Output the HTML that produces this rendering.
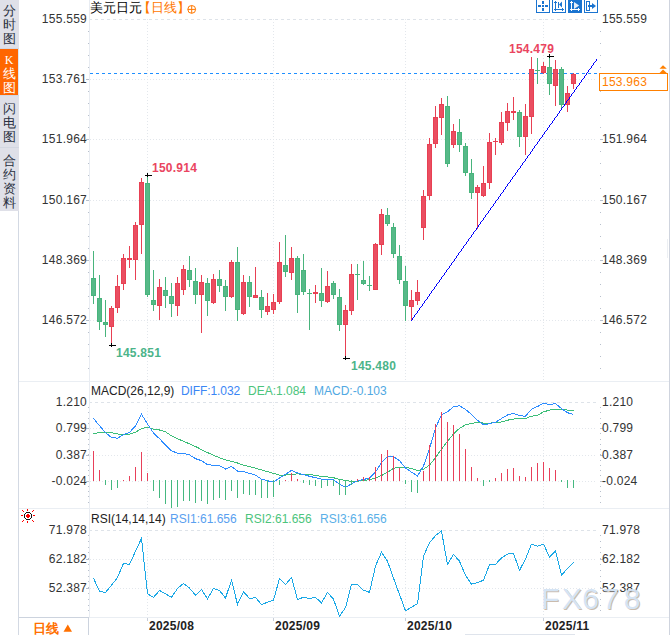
<!DOCTYPE html>
<html><head><meta charset="utf-8">
<style>
html,body{margin:0;padding:0;}
body{width:670px;height:635px;position:relative;overflow:hidden;background:#fff;font-family:"Liberation Sans",sans-serif;}
.t{position:absolute;white-space:nowrap;line-height:1;}
#side{position:absolute;left:0;top:0;width:19px;height:211px;background:#dfe0e8;}
.tab{position:absolute;left:0;width:18px;font-size:13px;line-height:14px;text-align:center;color:#2a3040;}
#ktab{position:absolute;left:0;top:49px;width:18px;height:46px;background:#ff6600;}
#pbox{position:absolute;left:599px;top:73px;width:67px;height:16px;border:1px solid #ff8000;background:#fff;}
#wm{position:absolute;left:541px;top:584px;font-size:30px;line-height:30px;color:#d2e2f4;text-shadow:1px 1px 0 rgba(150,120,90,0.55);letter-spacing:2.6px;opacity:0.92;}
svg{position:absolute;left:0;top:0;}
</style></head>
<body>
<div id="side"></div>
<div id="ktab"></div>
<div style="position:absolute;left:18px;top:49px;width:1px;height:46px;background:#dce8f4"></div>
<div style="position:absolute;left:0;top:95px;width:19px;height:1px;background:#d2dbe6"></div>
<div style="position:absolute;left:0;top:147px;width:19px;height:1px;background:#d3d7e1"></div>
<div style="position:absolute;left:0;top:48px;width:19px;height:1px;background:#d3d7e1"></div>
<div class="tab" style="top:4px">分<br>时<br>图</div>
<div class="tab" style="top:53px;color:#fff"><span style="font-family:'Liberation Serif',serif;font-size:12px">K</span><br>线<br>图</div>
<div class="tab" style="top:102px">闪<br>电<br>图</div>
<div class="tab" style="top:154px">合<br>约<br>资<br>料</div>
<svg width="670" height="635" viewBox="0 0 670 635">
<line x1="89" y1="19.5" x2="597" y2="19.5" stroke="#dee3e9" stroke-dasharray="3 3"/>
<line x1="90" y1="79.5" x2="597" y2="79.5" stroke="#e3e7ec" stroke-dasharray="1 2"/>
<line x1="90" y1="139.5" x2="597" y2="139.5" stroke="#e3e7ec" stroke-dasharray="1 2"/>
<line x1="90" y1="200.5" x2="597" y2="200.5" stroke="#e3e7ec" stroke-dasharray="1 2"/>
<line x1="90" y1="260.5" x2="597" y2="260.5" stroke="#e3e7ec" stroke-dasharray="1 2"/>
<line x1="90" y1="320.5" x2="597" y2="320.5" stroke="#e3e7ec" stroke-dasharray="1 2"/>
<line x1="147.5" y1="19" x2="147.5" y2="380" stroke="#e3e7ec" stroke-dasharray="1 2"/>
<line x1="273.5" y1="19" x2="273.5" y2="380" stroke="#e3e7ec" stroke-dasharray="1 2"/>
<line x1="405.5" y1="19" x2="405.5" y2="380" stroke="#e3e7ec" stroke-dasharray="1 2"/>
<line x1="543.5" y1="19" x2="543.5" y2="380" stroke="#e3e7ec" stroke-dasharray="1 2"/>
<line x1="89" y1="402.5" x2="597" y2="402.5" stroke="#dee3e9" stroke-dasharray="3 3"/>
<line x1="90" y1="428.5" x2="597" y2="428.5" stroke="#e3e7ec" stroke-dasharray="1 2"/>
<line x1="90" y1="455.5" x2="597" y2="455.5" stroke="#e3e7ec" stroke-dasharray="1 2"/>
<line x1="90" y1="481.5" x2="597" y2="481.5" stroke="#e3e7ec" stroke-dasharray="1 2"/>
<line x1="147.5" y1="402" x2="147.5" y2="508" stroke="#e3e7ec" stroke-dasharray="1 2"/>
<line x1="273.5" y1="402" x2="273.5" y2="508" stroke="#e3e7ec" stroke-dasharray="1 2"/>
<line x1="405.5" y1="402" x2="405.5" y2="508" stroke="#e3e7ec" stroke-dasharray="1 2"/>
<line x1="543.5" y1="402" x2="543.5" y2="508" stroke="#e3e7ec" stroke-dasharray="1 2"/>
<line x1="89" y1="530.5" x2="597" y2="530.5" stroke="#dee3e9" stroke-dasharray="3 3"/>
<line x1="90" y1="559.5" x2="597" y2="559.5" stroke="#e3e7ec" stroke-dasharray="1 2"/>
<line x1="90" y1="588.5" x2="597" y2="588.5" stroke="#e3e7ec" stroke-dasharray="1 2"/>
<line x1="147.5" y1="530" x2="147.5" y2="617" stroke="#e3e7ec" stroke-dasharray="1 2"/>
<line x1="273.5" y1="530" x2="273.5" y2="617" stroke="#e3e7ec" stroke-dasharray="1 2"/>
<line x1="405.5" y1="530" x2="405.5" y2="617" stroke="#e3e7ec" stroke-dasharray="1 2"/>
<line x1="543.5" y1="530" x2="543.5" y2="617" stroke="#e3e7ec" stroke-dasharray="1 2"/>
<rect x="89" y="0" width="1" height="617" fill="#e8ecf2"/>
<rect x="88" y="31" width="1" height="1" fill="#b8c0cc"/>
<rect x="600" y="31" width="1" height="1" fill="#b8c0cc"/>
<rect x="88" y="43" width="1" height="1" fill="#b8c0cc"/>
<rect x="600" y="43" width="1" height="1" fill="#b8c0cc"/>
<rect x="88" y="55" width="1" height="1" fill="#b8c0cc"/>
<rect x="600" y="55" width="1" height="1" fill="#b8c0cc"/>
<rect x="88" y="67" width="1" height="1" fill="#b8c0cc"/>
<rect x="600" y="67" width="1" height="1" fill="#b8c0cc"/>
<rect x="88" y="79" width="1" height="1" fill="#b8c0cc"/>
<rect x="600" y="79" width="1" height="1" fill="#b8c0cc"/>
<rect x="88" y="91" width="1" height="1" fill="#b8c0cc"/>
<rect x="600" y="91" width="1" height="1" fill="#b8c0cc"/>
<rect x="88" y="103" width="1" height="1" fill="#b8c0cc"/>
<rect x="600" y="103" width="1" height="1" fill="#b8c0cc"/>
<rect x="88" y="115" width="1" height="1" fill="#b8c0cc"/>
<rect x="600" y="115" width="1" height="1" fill="#b8c0cc"/>
<rect x="88" y="127" width="1" height="1" fill="#b8c0cc"/>
<rect x="600" y="127" width="1" height="1" fill="#b8c0cc"/>
<rect x="88" y="139" width="1" height="1" fill="#b8c0cc"/>
<rect x="600" y="139" width="1" height="1" fill="#b8c0cc"/>
<rect x="88" y="151" width="1" height="1" fill="#b8c0cc"/>
<rect x="600" y="151" width="1" height="1" fill="#b8c0cc"/>
<rect x="88" y="163" width="1" height="1" fill="#b8c0cc"/>
<rect x="600" y="163" width="1" height="1" fill="#b8c0cc"/>
<rect x="88" y="175" width="1" height="1" fill="#b8c0cc"/>
<rect x="600" y="175" width="1" height="1" fill="#b8c0cc"/>
<rect x="88" y="188" width="1" height="1" fill="#b8c0cc"/>
<rect x="600" y="188" width="1" height="1" fill="#b8c0cc"/>
<rect x="88" y="200" width="1" height="1" fill="#b8c0cc"/>
<rect x="600" y="200" width="1" height="1" fill="#b8c0cc"/>
<rect x="88" y="212" width="1" height="1" fill="#b8c0cc"/>
<rect x="600" y="212" width="1" height="1" fill="#b8c0cc"/>
<rect x="88" y="224" width="1" height="1" fill="#b8c0cc"/>
<rect x="600" y="224" width="1" height="1" fill="#b8c0cc"/>
<rect x="88" y="236" width="1" height="1" fill="#b8c0cc"/>
<rect x="600" y="236" width="1" height="1" fill="#b8c0cc"/>
<rect x="88" y="248" width="1" height="1" fill="#b8c0cc"/>
<rect x="600" y="248" width="1" height="1" fill="#b8c0cc"/>
<rect x="88" y="260" width="1" height="1" fill="#b8c0cc"/>
<rect x="600" y="260" width="1" height="1" fill="#b8c0cc"/>
<rect x="88" y="272" width="1" height="1" fill="#b8c0cc"/>
<rect x="600" y="272" width="1" height="1" fill="#b8c0cc"/>
<rect x="88" y="284" width="1" height="1" fill="#b8c0cc"/>
<rect x="600" y="284" width="1" height="1" fill="#b8c0cc"/>
<rect x="88" y="296" width="1" height="1" fill="#b8c0cc"/>
<rect x="600" y="296" width="1" height="1" fill="#b8c0cc"/>
<rect x="88" y="308" width="1" height="1" fill="#b8c0cc"/>
<rect x="600" y="308" width="1" height="1" fill="#b8c0cc"/>
<rect x="88" y="320" width="1" height="1" fill="#b8c0cc"/>
<rect x="600" y="320" width="1" height="1" fill="#b8c0cc"/>
<rect x="88" y="332" width="1" height="1" fill="#b8c0cc"/>
<rect x="600" y="332" width="1" height="1" fill="#b8c0cc"/>
<rect x="88" y="344" width="1" height="1" fill="#b8c0cc"/>
<rect x="600" y="344" width="1" height="1" fill="#b8c0cc"/>
<rect x="88" y="356" width="1" height="1" fill="#b8c0cc"/>
<rect x="600" y="356" width="1" height="1" fill="#b8c0cc"/>
<rect x="88" y="368" width="1" height="1" fill="#b8c0cc"/>
<rect x="600" y="368" width="1" height="1" fill="#b8c0cc"/>
<rect x="86" y="79" width="3" height="1" fill="#b8c0cc"/>
<rect x="600" y="79" width="3" height="1" fill="#b8c0cc"/>
<rect x="86" y="139" width="3" height="1" fill="#b8c0cc"/>
<rect x="600" y="139" width="3" height="1" fill="#b8c0cc"/>
<rect x="86" y="200" width="3" height="1" fill="#b8c0cc"/>
<rect x="600" y="200" width="3" height="1" fill="#b8c0cc"/>
<rect x="86" y="260" width="3" height="1" fill="#b8c0cc"/>
<rect x="600" y="260" width="3" height="1" fill="#b8c0cc"/>
<rect x="86" y="320" width="3" height="1" fill="#b8c0cc"/>
<rect x="600" y="320" width="3" height="1" fill="#b8c0cc"/>
<rect x="88" y="407" width="1" height="1" fill="#b8c0cc"/>
<rect x="600" y="407" width="1" height="1" fill="#b8c0cc"/>
<rect x="88" y="412" width="1" height="1" fill="#b8c0cc"/>
<rect x="600" y="412" width="1" height="1" fill="#b8c0cc"/>
<rect x="88" y="418" width="1" height="1" fill="#b8c0cc"/>
<rect x="600" y="418" width="1" height="1" fill="#b8c0cc"/>
<rect x="88" y="423" width="1" height="1" fill="#b8c0cc"/>
<rect x="600" y="423" width="1" height="1" fill="#b8c0cc"/>
<rect x="88" y="428" width="1" height="1" fill="#b8c0cc"/>
<rect x="600" y="428" width="1" height="1" fill="#b8c0cc"/>
<rect x="88" y="433" width="1" height="1" fill="#b8c0cc"/>
<rect x="600" y="433" width="1" height="1" fill="#b8c0cc"/>
<rect x="88" y="439" width="1" height="1" fill="#b8c0cc"/>
<rect x="600" y="439" width="1" height="1" fill="#b8c0cc"/>
<rect x="88" y="444" width="1" height="1" fill="#b8c0cc"/>
<rect x="600" y="444" width="1" height="1" fill="#b8c0cc"/>
<rect x="88" y="449" width="1" height="1" fill="#b8c0cc"/>
<rect x="600" y="449" width="1" height="1" fill="#b8c0cc"/>
<rect x="88" y="454" width="1" height="1" fill="#b8c0cc"/>
<rect x="600" y="454" width="1" height="1" fill="#b8c0cc"/>
<rect x="88" y="460" width="1" height="1" fill="#b8c0cc"/>
<rect x="600" y="460" width="1" height="1" fill="#b8c0cc"/>
<rect x="88" y="465" width="1" height="1" fill="#b8c0cc"/>
<rect x="600" y="465" width="1" height="1" fill="#b8c0cc"/>
<rect x="88" y="470" width="1" height="1" fill="#b8c0cc"/>
<rect x="600" y="470" width="1" height="1" fill="#b8c0cc"/>
<rect x="88" y="475" width="1" height="1" fill="#b8c0cc"/>
<rect x="600" y="475" width="1" height="1" fill="#b8c0cc"/>
<rect x="88" y="481" width="1" height="1" fill="#b8c0cc"/>
<rect x="600" y="481" width="1" height="1" fill="#b8c0cc"/>
<rect x="88" y="486" width="1" height="1" fill="#b8c0cc"/>
<rect x="600" y="486" width="1" height="1" fill="#b8c0cc"/>
<rect x="88" y="491" width="1" height="1" fill="#b8c0cc"/>
<rect x="600" y="491" width="1" height="1" fill="#b8c0cc"/>
<rect x="88" y="496" width="1" height="1" fill="#b8c0cc"/>
<rect x="600" y="496" width="1" height="1" fill="#b8c0cc"/>
<rect x="88" y="502" width="1" height="1" fill="#b8c0cc"/>
<rect x="600" y="502" width="1" height="1" fill="#b8c0cc"/>
<rect x="86" y="428" width="3" height="1" fill="#b8c0cc"/>
<rect x="600" y="428" width="3" height="1" fill="#b8c0cc"/>
<rect x="86" y="455" width="3" height="1" fill="#b8c0cc"/>
<rect x="600" y="455" width="3" height="1" fill="#b8c0cc"/>
<rect x="86" y="481" width="3" height="1" fill="#b8c0cc"/>
<rect x="600" y="481" width="3" height="1" fill="#b8c0cc"/>
<rect x="88" y="535" width="1" height="1" fill="#b8c0cc"/>
<rect x="600" y="535" width="1" height="1" fill="#b8c0cc"/>
<rect x="88" y="541" width="1" height="1" fill="#b8c0cc"/>
<rect x="600" y="541" width="1" height="1" fill="#b8c0cc"/>
<rect x="88" y="547" width="1" height="1" fill="#b8c0cc"/>
<rect x="600" y="547" width="1" height="1" fill="#b8c0cc"/>
<rect x="88" y="552" width="1" height="1" fill="#b8c0cc"/>
<rect x="600" y="552" width="1" height="1" fill="#b8c0cc"/>
<rect x="88" y="558" width="1" height="1" fill="#b8c0cc"/>
<rect x="600" y="558" width="1" height="1" fill="#b8c0cc"/>
<rect x="88" y="564" width="1" height="1" fill="#b8c0cc"/>
<rect x="600" y="564" width="1" height="1" fill="#b8c0cc"/>
<rect x="88" y="570" width="1" height="1" fill="#b8c0cc"/>
<rect x="600" y="570" width="1" height="1" fill="#b8c0cc"/>
<rect x="88" y="576" width="1" height="1" fill="#b8c0cc"/>
<rect x="600" y="576" width="1" height="1" fill="#b8c0cc"/>
<rect x="88" y="581" width="1" height="1" fill="#b8c0cc"/>
<rect x="600" y="581" width="1" height="1" fill="#b8c0cc"/>
<rect x="88" y="587" width="1" height="1" fill="#b8c0cc"/>
<rect x="600" y="587" width="1" height="1" fill="#b8c0cc"/>
<rect x="88" y="593" width="1" height="1" fill="#b8c0cc"/>
<rect x="600" y="593" width="1" height="1" fill="#b8c0cc"/>
<rect x="88" y="599" width="1" height="1" fill="#b8c0cc"/>
<rect x="600" y="599" width="1" height="1" fill="#b8c0cc"/>
<rect x="88" y="605" width="1" height="1" fill="#b8c0cc"/>
<rect x="600" y="605" width="1" height="1" fill="#b8c0cc"/>
<rect x="88" y="610" width="1" height="1" fill="#b8c0cc"/>
<rect x="600" y="610" width="1" height="1" fill="#b8c0cc"/>
<rect x="86" y="559" width="3" height="1" fill="#b8c0cc"/>
<rect x="600" y="559" width="3" height="1" fill="#b8c0cc"/>
<rect x="86" y="588" width="3" height="1" fill="#b8c0cc"/>
<rect x="600" y="588" width="3" height="1" fill="#b8c0cc"/>
<rect x="19" y="381" width="650" height="1" fill="#eaeef3"/>
<rect x="19" y="508" width="650" height="1" fill="#eaeef3"/>
<rect x="89" y="617" width="580" height="1" fill="#eaeef3"/>
<rect x="18" y="617" width="71" height="1" fill="#ccd3de"/>
<rect x="88" y="617" width="1" height="18" fill="#ccd3de"/>
<rect x="18" y="211" width="1" height="424" fill="#d3d9e3"/>
<rect x="669" y="0" width="1" height="635" fill="#cfd4de"/>
<rect x="667" y="239" width="1" height="19" fill="#eceff3"/>
<rect x="465" y="634" width="110" height="1" fill="#dfe4ec"/>
<rect x="147" y="618" width="1" height="3" fill="#c8ced8"/>
<rect x="273" y="618" width="1" height="3" fill="#c8ced8"/>
<rect x="405" y="618" width="1" height="3" fill="#c8ced8"/>
<rect x="543" y="618" width="1" height="3" fill="#c8ced8"/>
<line x1="90" y1="73.5" x2="598" y2="73.5" stroke="#1e8fff" stroke-dasharray="3 3"/>
<rect x="93" y="251" width="1" height="53" fill="#48b47c"/>
<rect x="91" y="278" width="5" height="18" fill="#48b47c"/>
<rect x="92" y="279" width="3" height="16" fill="#56b988"/>
<rect x="99" y="275" width="1" height="55" fill="#48b47c"/>
<rect x="97" y="298" width="5" height="24" fill="#48b47c"/>
<rect x="98" y="299" width="3" height="22" fill="#56b988"/>
<rect x="105" y="300" width="1" height="37" fill="#48b47c"/>
<rect x="103" y="322" width="5" height="3" fill="#48b47c"/>
<rect x="104" y="323" width="3" height="1" fill="#56b988"/>
<rect x="111" y="306" width="1" height="38" fill="#e84053"/>
<rect x="109" y="308" width="5" height="19" fill="#e84053"/>
<rect x="110" y="309" width="3" height="17" fill="#ea4e61"/>
<rect x="117" y="275" width="1" height="38" fill="#e84053"/>
<rect x="115" y="286" width="5" height="22" fill="#e84053"/>
<rect x="116" y="287" width="3" height="20" fill="#ea4e61"/>
<rect x="123" y="254" width="1" height="36" fill="#e84053"/>
<rect x="121" y="258" width="5" height="26" fill="#e84053"/>
<rect x="122" y="259" width="3" height="24" fill="#ea4e61"/>
<rect x="129" y="246" width="1" height="22" fill="#e84053"/>
<rect x="127" y="258" width="5" height="2" fill="#e84053"/>
<rect x="135" y="222" width="1" height="58" fill="#e84053"/>
<rect x="133" y="225" width="5" height="35" fill="#e84053"/>
<rect x="134" y="226" width="3" height="33" fill="#ea4e61"/>
<rect x="141" y="178" width="1" height="76" fill="#e84053"/>
<rect x="139" y="182" width="5" height="43" fill="#e84053"/>
<rect x="140" y="183" width="3" height="41" fill="#ea4e61"/>
<rect x="147" y="176" width="1" height="121" fill="#48b47c"/>
<rect x="145" y="183" width="5" height="112" fill="#48b47c"/>
<rect x="146" y="184" width="3" height="110" fill="#56b988"/>
<rect x="153" y="270" width="1" height="41" fill="#48b47c"/>
<rect x="151" y="300" width="5" height="5" fill="#48b47c"/>
<rect x="152" y="301" width="3" height="3" fill="#56b988"/>
<rect x="159" y="279" width="1" height="41" fill="#e84053"/>
<rect x="157" y="287" width="5" height="19" fill="#e84053"/>
<rect x="158" y="288" width="3" height="17" fill="#ea4e61"/>
<rect x="165" y="277" width="1" height="31" fill="#48b47c"/>
<rect x="163" y="290" width="5" height="6" fill="#48b47c"/>
<rect x="164" y="291" width="3" height="4" fill="#56b988"/>
<rect x="171" y="283" width="1" height="34" fill="#48b47c"/>
<rect x="169" y="296" width="5" height="8" fill="#48b47c"/>
<rect x="170" y="297" width="3" height="6" fill="#56b988"/>
<rect x="177" y="277" width="1" height="39" fill="#e84053"/>
<rect x="175" y="283" width="5" height="23" fill="#e84053"/>
<rect x="176" y="284" width="3" height="21" fill="#ea4e61"/>
<rect x="183" y="265" width="1" height="30" fill="#e84053"/>
<rect x="181" y="269" width="5" height="21" fill="#e84053"/>
<rect x="182" y="270" width="3" height="19" fill="#ea4e61"/>
<rect x="189" y="256" width="1" height="31" fill="#48b47c"/>
<rect x="187" y="270" width="5" height="10" fill="#48b47c"/>
<rect x="188" y="271" width="3" height="8" fill="#56b988"/>
<rect x="195" y="268" width="1" height="36" fill="#48b47c"/>
<rect x="193" y="281" width="5" height="14" fill="#48b47c"/>
<rect x="194" y="282" width="3" height="12" fill="#56b988"/>
<rect x="201" y="275" width="1" height="58" fill="#e84053"/>
<rect x="199" y="282" width="5" height="13" fill="#e84053"/>
<rect x="200" y="283" width="3" height="11" fill="#ea4e61"/>
<rect x="207" y="278" width="1" height="38" fill="#48b47c"/>
<rect x="205" y="283" width="5" height="18" fill="#48b47c"/>
<rect x="206" y="284" width="3" height="16" fill="#56b988"/>
<rect x="213" y="274" width="1" height="30" fill="#e84053"/>
<rect x="211" y="279" width="5" height="24" fill="#e84053"/>
<rect x="212" y="280" width="3" height="22" fill="#ea4e61"/>
<rect x="219" y="270" width="1" height="22" fill="#48b47c"/>
<rect x="217" y="279" width="5" height="7" fill="#48b47c"/>
<rect x="218" y="280" width="3" height="5" fill="#56b988"/>
<rect x="225" y="280" width="1" height="31" fill="#48b47c"/>
<rect x="223" y="286" width="5" height="11" fill="#48b47c"/>
<rect x="224" y="287" width="3" height="9" fill="#56b988"/>
<rect x="231" y="260" width="1" height="38" fill="#e84053"/>
<rect x="229" y="262" width="5" height="35" fill="#e84053"/>
<rect x="230" y="263" width="3" height="33" fill="#ea4e61"/>
<rect x="237" y="247" width="1" height="74" fill="#48b47c"/>
<rect x="235" y="262" width="5" height="48" fill="#48b47c"/>
<rect x="236" y="263" width="3" height="46" fill="#56b988"/>
<rect x="243" y="275" width="1" height="40" fill="#e84053"/>
<rect x="241" y="282" width="5" height="32" fill="#e84053"/>
<rect x="242" y="283" width="3" height="30" fill="#ea4e61"/>
<rect x="249" y="276" width="1" height="31" fill="#48b47c"/>
<rect x="247" y="282" width="5" height="15" fill="#48b47c"/>
<rect x="248" y="283" width="3" height="13" fill="#56b988"/>
<rect x="255" y="267" width="1" height="31" fill="#e84053"/>
<rect x="253" y="295" width="5" height="3" fill="#e84053"/>
<rect x="254" y="296" width="3" height="1" fill="#ea4e61"/>
<rect x="261" y="290" width="1" height="28" fill="#48b47c"/>
<rect x="259" y="297" width="5" height="13" fill="#48b47c"/>
<rect x="260" y="298" width="3" height="11" fill="#56b988"/>
<rect x="267" y="293" width="1" height="22" fill="#e84053"/>
<rect x="265" y="306" width="5" height="6" fill="#e84053"/>
<rect x="266" y="307" width="3" height="4" fill="#ea4e61"/>
<rect x="273" y="294" width="1" height="20" fill="#e84053"/>
<rect x="271" y="302" width="5" height="8" fill="#e84053"/>
<rect x="272" y="303" width="3" height="6" fill="#ea4e61"/>
<rect x="279" y="242" width="1" height="62" fill="#e84053"/>
<rect x="277" y="262" width="5" height="40" fill="#e84053"/>
<rect x="278" y="263" width="3" height="38" fill="#ea4e61"/>
<rect x="285" y="235" width="1" height="42" fill="#48b47c"/>
<rect x="283" y="265" width="5" height="7" fill="#48b47c"/>
<rect x="284" y="266" width="3" height="5" fill="#56b988"/>
<rect x="291" y="247" width="1" height="33" fill="#e84053"/>
<rect x="289" y="258" width="5" height="15" fill="#e84053"/>
<rect x="290" y="259" width="3" height="13" fill="#ea4e61"/>
<rect x="297" y="256" width="1" height="57" fill="#48b47c"/>
<rect x="295" y="258" width="5" height="37" fill="#48b47c"/>
<rect x="296" y="259" width="3" height="35" fill="#56b988"/>
<rect x="303" y="254" width="1" height="41" fill="#48b47c"/>
<rect x="301" y="270" width="5" height="22" fill="#48b47c"/>
<rect x="302" y="271" width="3" height="20" fill="#56b988"/>
<rect x="309" y="289" width="1" height="41" fill="#48b47c"/>
<rect x="307" y="293" width="5" height="1" fill="#48b47c"/>
<rect x="315" y="285" width="1" height="18" fill="#e84053"/>
<rect x="313" y="292" width="5" height="2" fill="#e84053"/>
<rect x="321" y="268" width="1" height="39" fill="#48b47c"/>
<rect x="319" y="293" width="5" height="8" fill="#48b47c"/>
<rect x="320" y="294" width="3" height="6" fill="#56b988"/>
<rect x="327" y="271" width="1" height="32" fill="#e84053"/>
<rect x="325" y="286" width="5" height="16" fill="#e84053"/>
<rect x="326" y="287" width="3" height="14" fill="#ea4e61"/>
<rect x="333" y="281" width="1" height="18" fill="#48b47c"/>
<rect x="331" y="283" width="5" height="12" fill="#48b47c"/>
<rect x="332" y="284" width="3" height="10" fill="#56b988"/>
<rect x="339" y="289" width="1" height="42" fill="#48b47c"/>
<rect x="337" y="297" width="5" height="28" fill="#48b47c"/>
<rect x="338" y="298" width="3" height="26" fill="#56b988"/>
<rect x="345" y="305" width="1" height="53" fill="#e84053"/>
<rect x="343" y="310" width="5" height="15" fill="#e84053"/>
<rect x="344" y="311" width="3" height="13" fill="#ea4e61"/>
<rect x="351" y="264" width="1" height="51" fill="#e84053"/>
<rect x="349" y="274" width="5" height="37" fill="#e84053"/>
<rect x="350" y="275" width="3" height="35" fill="#ea4e61"/>
<rect x="357" y="264" width="1" height="36" fill="#48b47c"/>
<rect x="355" y="274" width="5" height="1" fill="#48b47c"/>
<rect x="363" y="261" width="1" height="24" fill="#48b47c"/>
<rect x="361" y="280" width="5" height="4" fill="#48b47c"/>
<rect x="362" y="281" width="3" height="2" fill="#56b988"/>
<rect x="369" y="276" width="1" height="15" fill="#48b47c"/>
<rect x="367" y="285" width="5" height="1" fill="#48b47c"/>
<rect x="375" y="243" width="1" height="47" fill="#e84053"/>
<rect x="373" y="244" width="5" height="46" fill="#e84053"/>
<rect x="374" y="245" width="3" height="44" fill="#ea4e61"/>
<rect x="381" y="209" width="1" height="46" fill="#e84053"/>
<rect x="379" y="214" width="5" height="31" fill="#e84053"/>
<rect x="380" y="215" width="3" height="29" fill="#ea4e61"/>
<rect x="387" y="208" width="1" height="18" fill="#48b47c"/>
<rect x="385" y="215" width="5" height="9" fill="#48b47c"/>
<rect x="386" y="216" width="3" height="7" fill="#56b988"/>
<rect x="393" y="223" width="1" height="35" fill="#48b47c"/>
<rect x="391" y="227" width="5" height="27" fill="#48b47c"/>
<rect x="392" y="228" width="3" height="25" fill="#56b988"/>
<rect x="399" y="245" width="1" height="39" fill="#48b47c"/>
<rect x="397" y="256" width="5" height="24" fill="#48b47c"/>
<rect x="398" y="257" width="3" height="22" fill="#56b988"/>
<rect x="405" y="266" width="1" height="55" fill="#48b47c"/>
<rect x="403" y="281" width="5" height="25" fill="#48b47c"/>
<rect x="404" y="282" width="3" height="23" fill="#56b988"/>
<rect x="411" y="290" width="1" height="31" fill="#e84053"/>
<rect x="409" y="300" width="5" height="7" fill="#e84053"/>
<rect x="410" y="301" width="3" height="5" fill="#ea4e61"/>
<rect x="417" y="280" width="1" height="25" fill="#e84053"/>
<rect x="415" y="292" width="5" height="9" fill="#e84053"/>
<rect x="416" y="293" width="3" height="7" fill="#ea4e61"/>
<rect x="423" y="190" width="1" height="50" fill="#e84053"/>
<rect x="421" y="196" width="5" height="32" fill="#e84053"/>
<rect x="422" y="197" width="3" height="30" fill="#ea4e61"/>
<rect x="429" y="138" width="1" height="62" fill="#e84053"/>
<rect x="427" y="144" width="5" height="52" fill="#e84053"/>
<rect x="428" y="145" width="3" height="50" fill="#ea4e61"/>
<rect x="435" y="106" width="1" height="42" fill="#e84053"/>
<rect x="433" y="117" width="5" height="27" fill="#e84053"/>
<rect x="434" y="118" width="3" height="25" fill="#ea4e61"/>
<rect x="441" y="98" width="1" height="37" fill="#e84053"/>
<rect x="439" y="104" width="5" height="14" fill="#e84053"/>
<rect x="440" y="105" width="3" height="12" fill="#ea4e61"/>
<rect x="447" y="96" width="1" height="71" fill="#48b47c"/>
<rect x="445" y="106" width="5" height="58" fill="#48b47c"/>
<rect x="446" y="107" width="3" height="56" fill="#56b988"/>
<rect x="453" y="124" width="1" height="24" fill="#e84053"/>
<rect x="451" y="131" width="5" height="14" fill="#e84053"/>
<rect x="452" y="132" width="3" height="12" fill="#ea4e61"/>
<rect x="459" y="119" width="1" height="33" fill="#48b47c"/>
<rect x="457" y="132" width="5" height="13" fill="#48b47c"/>
<rect x="458" y="133" width="3" height="11" fill="#56b988"/>
<rect x="465" y="143" width="1" height="33" fill="#48b47c"/>
<rect x="463" y="146" width="5" height="27" fill="#48b47c"/>
<rect x="464" y="147" width="3" height="25" fill="#56b988"/>
<rect x="471" y="159" width="1" height="40" fill="#48b47c"/>
<rect x="469" y="173" width="5" height="20" fill="#48b47c"/>
<rect x="470" y="174" width="3" height="18" fill="#56b988"/>
<rect x="477" y="185" width="1" height="44" fill="#e84053"/>
<rect x="475" y="187" width="5" height="6" fill="#e84053"/>
<rect x="476" y="188" width="3" height="4" fill="#ea4e61"/>
<rect x="483" y="166" width="1" height="31" fill="#e84053"/>
<rect x="481" y="183" width="5" height="13" fill="#e84053"/>
<rect x="482" y="184" width="3" height="11" fill="#ea4e61"/>
<rect x="489" y="133" width="1" height="56" fill="#e84053"/>
<rect x="487" y="142" width="5" height="41" fill="#e84053"/>
<rect x="488" y="143" width="3" height="39" fill="#ea4e61"/>
<rect x="495" y="138" width="1" height="17" fill="#e84053"/>
<rect x="493" y="141" width="5" height="1" fill="#e84053"/>
<rect x="501" y="112" width="1" height="33" fill="#e84053"/>
<rect x="499" y="122" width="5" height="21" fill="#e84053"/>
<rect x="500" y="123" width="3" height="19" fill="#ea4e61"/>
<rect x="507" y="103" width="1" height="28" fill="#e84053"/>
<rect x="505" y="111" width="5" height="12" fill="#e84053"/>
<rect x="506" y="112" width="3" height="10" fill="#ea4e61"/>
<rect x="513" y="97" width="1" height="23" fill="#e84053"/>
<rect x="511" y="111" width="5" height="2" fill="#e84053"/>
<rect x="519" y="110" width="1" height="37" fill="#48b47c"/>
<rect x="517" y="112" width="5" height="25" fill="#48b47c"/>
<rect x="518" y="113" width="3" height="23" fill="#56b988"/>
<rect x="525" y="104" width="1" height="51" fill="#e84053"/>
<rect x="523" y="116" width="5" height="21" fill="#e84053"/>
<rect x="524" y="117" width="3" height="19" fill="#ea4e61"/>
<rect x="531" y="57" width="1" height="77" fill="#e84053"/>
<rect x="529" y="69" width="5" height="48" fill="#e84053"/>
<rect x="530" y="70" width="3" height="46" fill="#ea4e61"/>
<rect x="537" y="58" width="1" height="26" fill="#48b47c"/>
<rect x="535" y="70" width="5" height="1" fill="#48b47c"/>
<rect x="543" y="62" width="1" height="12" fill="#e84053"/>
<rect x="541" y="66" width="5" height="7" fill="#e84053"/>
<rect x="542" y="67" width="3" height="5" fill="#ea4e61"/>
<rect x="549" y="56" width="1" height="39" fill="#48b47c"/>
<rect x="547" y="67" width="5" height="17" fill="#48b47c"/>
<rect x="548" y="68" width="3" height="15" fill="#56b988"/>
<rect x="555" y="60" width="1" height="46" fill="#e84053"/>
<rect x="553" y="69" width="5" height="17" fill="#e84053"/>
<rect x="554" y="70" width="3" height="15" fill="#ea4e61"/>
<rect x="561" y="67" width="1" height="42" fill="#48b47c"/>
<rect x="559" y="69" width="5" height="36" fill="#48b47c"/>
<rect x="560" y="70" width="3" height="34" fill="#56b988"/>
<rect x="567" y="86" width="1" height="26" fill="#e84053"/>
<rect x="565" y="93" width="5" height="12" fill="#e84053"/>
<rect x="566" y="94" width="3" height="10" fill="#ea4e61"/>
<rect x="573" y="73" width="1" height="16" fill="#e84053"/>
<rect x="571" y="74" width="5" height="10" fill="#e84053"/>
<rect x="572" y="75" width="3" height="8" fill="#ea4e61"/>
<rect x="145" y="175" width="7" height="1" fill="#000"/>
<rect x="147" y="173" width="1" height="4" fill="#000"/>
<rect x="109" y="345" width="7" height="1" fill="#000"/>
<rect x="111" y="343" width="1" height="4" fill="#000"/>
<rect x="343" y="358" width="7" height="1" fill="#000"/>
<rect x="345" y="356" width="1" height="4" fill="#000"/>
<rect x="547" y="56" width="7" height="1" fill="#000"/>
<rect x="549" y="54" width="1" height="4" fill="#000"/>
<path fill="#0000ff" d="M596 59h1v2h-1z M595 61h1v1h-1z M594 62h1v1h-1z M593 63h1v2h-1z M592 65h1v1h-1z M591 66h1v2h-1z M590 68h1v1h-1z M589 69h1v1h-1z M588 70h1v2h-1z M587 72h1v1h-1z M586 73h1v2h-1z M585 75h1v1h-1z M584 76h1v2h-1z M583 78h1v1h-1z M582 79h1v1h-1z M581 80h1v2h-1z M580 82h1v1h-1z M579 83h1v2h-1z M578 85h1v1h-1z M577 86h1v1h-1z M576 87h1v2h-1z M575 89h1v1h-1z M574 90h1v2h-1z M573 92h1v1h-1z M572 93h1v1h-1z M571 94h1v2h-1z M570 96h1v1h-1z M569 97h1v2h-1z M568 99h1v1h-1z M567 100h1v1h-1z M566 101h1v2h-1z M565 103h1v1h-1z M564 104h1v2h-1z M563 106h1v1h-1z M562 107h1v1h-1z M561 108h1v2h-1z M560 110h1v1h-1z M559 111h1v2h-1z M558 113h1v1h-1z M557 114h1v2h-1z M556 116h1v1h-1z M555 117h1v1h-1z M554 118h1v2h-1z M553 120h1v1h-1z M552 121h1v2h-1z M551 123h1v1h-1z M550 124h1v1h-1z M549 125h1v2h-1z M548 127h1v1h-1z M547 128h1v2h-1z M546 130h1v1h-1z M545 131h1v1h-1z M544 132h1v2h-1z M543 134h1v1h-1z M542 135h1v2h-1z M541 137h1v1h-1z M540 138h1v1h-1z M539 139h1v2h-1z M538 141h1v1h-1z M537 142h1v2h-1z M536 144h1v1h-1z M535 145h1v1h-1z M534 146h1v2h-1z M533 148h1v1h-1z M532 149h1v2h-1z M531 151h1v1h-1z M530 152h1v2h-1z M529 154h1v1h-1z M528 155h1v1h-1z M527 156h1v2h-1z M526 158h1v1h-1z M525 159h1v2h-1z M524 161h1v1h-1z M523 162h1v1h-1z M522 163h1v2h-1z M521 165h1v1h-1z M520 166h1v2h-1z M519 168h1v1h-1z M518 169h1v1h-1z M517 170h1v2h-1z M516 172h1v1h-1z M515 173h1v2h-1z M514 175h1v1h-1z M513 176h1v1h-1z M512 177h1v2h-1z M511 179h1v1h-1z M510 180h1v2h-1z M509 182h1v1h-1z M508 183h1v1h-1z M507 184h1v2h-1z M506 186h1v1h-1z M505 187h1v2h-1z M504 189h1v1h-1z M503 190h1v2h-1z M502 192h1v1h-1z M501 193h1v1h-1z M500 194h1v2h-1z M499 196h1v1h-1z M498 197h1v2h-1z M497 199h1v1h-1z M496 200h1v1h-1z M495 201h1v2h-1z M494 203h1v1h-1z M493 204h1v2h-1z M492 206h1v1h-1z M491 207h1v1h-1z M490 208h1v2h-1z M489 210h1v1h-1z M488 211h1v2h-1z M487 213h1v1h-1z M486 214h1v1h-1z M485 215h1v2h-1z M484 217h1v1h-1z M483 218h1v2h-1z M482 220h1v1h-1z M481 221h1v1h-1z M480 222h1v2h-1z M479 224h1v1h-1z M478 225h1v2h-1z M477 227h1v1h-1z M476 228h1v2h-1z M475 230h1v1h-1z M474 231h1v1h-1z M473 232h1v2h-1z M472 234h1v1h-1z M471 235h1v2h-1z M470 237h1v1h-1z M469 238h1v1h-1z M468 239h1v2h-1z M467 241h1v1h-1z M466 242h1v2h-1z M465 244h1v1h-1z M464 245h1v1h-1z M463 246h1v2h-1z M462 248h1v1h-1z M461 249h1v2h-1z M460 251h1v1h-1z M459 252h1v1h-1z M458 253h1v2h-1z M457 255h1v1h-1z M456 256h1v2h-1z M455 258h1v1h-1z M454 259h1v2h-1z M453 261h1v1h-1z M452 262h1v1h-1z M451 263h1v2h-1z M450 265h1v1h-1z M449 266h1v2h-1z M448 268h1v1h-1z M447 269h1v1h-1z M446 270h1v2h-1z M445 272h1v1h-1z M444 273h1v2h-1z M443 275h1v1h-1z M442 276h1v1h-1z M441 277h1v2h-1z M440 279h1v1h-1z M439 280h1v2h-1z M438 282h1v1h-1z M437 283h1v1h-1z M436 284h1v2h-1z M435 286h1v1h-1z M434 287h1v2h-1z M433 289h1v1h-1z M432 290h1v1h-1z M431 291h1v2h-1z M430 293h1v1h-1z M429 294h1v2h-1z M428 296h1v1h-1z M427 297h1v2h-1z M426 299h1v1h-1z M425 300h1v1h-1z M424 301h1v2h-1z M423 303h1v1h-1z M422 304h1v2h-1z M421 306h1v1h-1z M420 307h1v1h-1z M419 308h1v2h-1z M418 310h1v1h-1z M417 311h1v2h-1z M416 313h1v1h-1z M415 314h1v1h-1z M414 315h1v2h-1z M413 317h1v1h-1z M412 318h1v2h-1z M411 320h1v1h-1z"/>
<polyline points="93.5,433.5 99.5,432.7 105.5,432.3 111.5,432.7 117.5,434.0 123.5,434.4 129.5,434.3 135.5,432.2 141.5,428.6 147.5,427.4 153.5,429.1 159.5,430.0 165.5,431.8 171.5,435.8 177.5,438.7 183.5,441.3 189.5,443.9 195.5,446.5 201.5,449.6 207.5,452.6 213.5,455.2 219.5,457.8 225.5,460.0 231.5,461.3 237.5,463.0 243.5,465.2 249.5,466.5 255.5,468.2 261.5,469.9 267.5,471.7 273.5,473.4 279.5,475.1 285.5,475.1 291.5,474.3 297.5,473.9 303.5,474.3 309.5,474.3 315.5,475.6 321.5,476.3 327.5,476.9 333.5,477.7 339.5,479.5 345.5,480.3 351.5,481.5 357.5,481.2 363.5,480.3 369.5,479.8 375.5,477.8 381.5,475.6 387.5,472.2 393.5,468.4 399.5,467.2 405.5,467.2 411.5,468.7 417.5,470.4 423.5,469.3 429.5,465.0 435.5,457.7 441.5,449.1 447.5,441.3 453.5,434.0 459.5,428.3 465.5,424.9 471.5,423.4 477.5,422.3 483.5,423.1 489.5,423.1 495.5,422.6 501.5,421.9 507.5,420.2 513.5,419.1 519.5,418.5 525.5,418.5 531.5,416.2 537.5,415.2 543.5,411.9 549.5,410.1 555.5,409.3 561.5,409.3 567.5,410.1 573.5,411.0" fill="none" stroke="#3cbe78" stroke-width="1" shape-rendering="crispEdges"/>
<polyline points="93.5,418.5 99.5,425.7 105.5,432.7 111.5,437.5 117.5,438.2 123.5,434.7 129.5,432.4 135.5,425.8 141.5,414.3 147.5,423.9 153.5,433.0 159.5,438.7 165.5,445.1 171.5,450.9 177.5,453.1 183.5,453.5 189.5,454.8 195.5,458.7 201.5,460.7 207.5,464.7 213.5,465.2 219.5,465.6 225.5,469.0 231.5,466.5 237.5,471.1 243.5,471.7 249.5,473.4 255.5,475.1 261.5,479.1 267.5,480.8 273.5,482.0 279.5,478.0 285.5,474.3 291.5,470.4 297.5,472.9 303.5,474.6 309.5,476.3 315.5,477.7 321.5,479.1 327.5,479.1 333.5,479.8 339.5,484.3 345.5,487.3 351.5,483.8 357.5,480.8 363.5,479.5 369.5,478.0 375.5,472.1 381.5,462.6 387.5,456.7 393.5,456.5 399.5,460.7 405.5,468.0 411.5,472.2 417.5,476.0 423.5,466.0 429.5,448.7 435.5,428.3 441.5,414.5 447.5,411.9 453.5,406.7 459.5,405.8 465.5,409.3 471.5,414.5 477.5,420.2 483.5,424.9 489.5,423.6 495.5,422.3 501.5,418.5 507.5,415.0 513.5,413.3 519.5,415.7 525.5,416.2 531.5,409.2 537.5,406.5 543.5,403.4 549.5,404.6 555.5,403.5 561.5,408.7 567.5,412.7 573.5,414.5" fill="none" stroke="#2d8cff" stroke-width="1" shape-rendering="crispEdges"/>
<polyline points="93.5,578.2 99.5,591.4 105.5,592.4 111.5,585.3 117.5,577.5 123.5,563.3 129.5,564.4 135.5,551.2 141.5,538.5 147.5,593.8 153.5,597.3 159.5,590.5 165.5,593.8 171.5,597.3 177.5,588.5 183.5,583.4 189.5,588.1 195.5,595.2 201.5,589.5 207.5,599.0 213.5,588.5 219.5,590.5 225.5,598.0 231.5,580.3 237.5,604.4 243.5,591.7 249.5,598.5 255.5,597.6 261.5,604.4 267.5,602.3 273.5,600.2 279.5,578.6 285.5,584.6 291.5,577.5 297.5,599.5 303.5,597.3 309.5,598.5 315.5,597.3 321.5,603.0 327.5,592.4 333.5,599.2 339.5,616.3 345.5,607.6 351.5,584.6 357.5,584.3 363.5,590.2 369.5,592.4 375.5,566.1 381.5,552.2 387.5,561.2 393.5,578.2 399.5,594.5 405.5,610.8 411.5,607.3 417.5,603.7 423.5,556.2 429.5,542.7 435.5,535.6 441.5,531.0 447.5,564.4 453.5,554.5 459.5,561.2 465.5,575.4 471.5,584.3 477.5,582.4 483.5,580.3 489.5,564.7 495.5,564.4 501.5,557.9 507.5,554.1 513.5,553.4 519.5,570.4 525.5,559.0 531.5,544.1 537.5,546.3 543.5,544.1 549.5,556.9 555.5,551.2 561.5,574.9 567.5,568.7 573.5,562.2" fill="none" stroke="#1aa8e6" stroke-width="1" shape-rendering="crispEdges"/>
<rect x="93" y="451" width="1" height="30" fill="#e8405a"/>
<rect x="99" y="470" width="1" height="11" fill="#e8405a"/>
<rect x="105" y="480" width="1" height="5" fill="#45b880"/>
<rect x="111" y="480" width="1" height="10" fill="#45b880"/>
<rect x="117" y="480" width="1" height="8" fill="#45b880"/>
<rect x="123" y="480" width="1" height="1" fill="#e8405a"/>
<rect x="129" y="476" width="1" height="5" fill="#e8405a"/>
<rect x="135" y="467" width="1" height="14" fill="#e8405a"/>
<rect x="141" y="452" width="1" height="29" fill="#e8405a"/>
<rect x="147" y="473" width="1" height="8" fill="#e8405a"/>
<rect x="153" y="480" width="1" height="11" fill="#45b880"/>
<rect x="159" y="480" width="1" height="18" fill="#45b880"/>
<rect x="165" y="480" width="1" height="24" fill="#45b880"/>
<rect x="171" y="480" width="1" height="28" fill="#45b880"/>
<rect x="177" y="480" width="1" height="27" fill="#45b880"/>
<rect x="183" y="480" width="1" height="21" fill="#45b880"/>
<rect x="189" y="480" width="1" height="21" fill="#45b880"/>
<rect x="195" y="480" width="1" height="23" fill="#45b880"/>
<rect x="201" y="480" width="1" height="21" fill="#45b880"/>
<rect x="207" y="480" width="1" height="24" fill="#45b880"/>
<rect x="213" y="480" width="1" height="20" fill="#45b880"/>
<rect x="219" y="480" width="1" height="18" fill="#45b880"/>
<rect x="225" y="480" width="1" height="20" fill="#45b880"/>
<rect x="231" y="480" width="1" height="11" fill="#45b880"/>
<rect x="237" y="480" width="1" height="18" fill="#45b880"/>
<rect x="243" y="480" width="1" height="14" fill="#45b880"/>
<rect x="249" y="480" width="1" height="15" fill="#45b880"/>
<rect x="255" y="480" width="1" height="15" fill="#45b880"/>
<rect x="261" y="480" width="1" height="18" fill="#45b880"/>
<rect x="267" y="480" width="1" height="18" fill="#45b880"/>
<rect x="273" y="480" width="1" height="17" fill="#45b880"/>
<rect x="279" y="480" width="1" height="5" fill="#45b880"/>
<rect x="285" y="480" width="1" height="1" fill="#e8405a"/>
<rect x="291" y="473" width="1" height="8" fill="#e8405a"/>
<rect x="297" y="479" width="1" height="2" fill="#e8405a"/>
<rect x="303" y="480" width="1" height="3" fill="#45b880"/>
<rect x="309" y="480" width="1" height="5" fill="#45b880"/>
<rect x="315" y="480" width="1" height="6" fill="#45b880"/>
<rect x="321" y="480" width="1" height="8" fill="#45b880"/>
<rect x="327" y="480" width="1" height="6" fill="#45b880"/>
<rect x="333" y="480" width="1" height="6" fill="#45b880"/>
<rect x="339" y="480" width="1" height="15" fill="#45b880"/>
<rect x="345" y="480" width="1" height="15" fill="#45b880"/>
<rect x="351" y="480" width="1" height="5" fill="#45b880"/>
<rect x="357" y="479" width="1" height="2" fill="#e8405a"/>
<rect x="363" y="477" width="1" height="4" fill="#e8405a"/>
<rect x="369" y="477" width="1" height="4" fill="#e8405a"/>
<rect x="375" y="467" width="1" height="14" fill="#e8405a"/>
<rect x="381" y="454" width="1" height="27" fill="#e8405a"/>
<rect x="387" y="450" width="1" height="31" fill="#e8405a"/>
<rect x="393" y="456" width="1" height="25" fill="#e8405a"/>
<rect x="399" y="468" width="1" height="13" fill="#e8405a"/>
<rect x="405" y="480" width="1" height="4" fill="#45b880"/>
<rect x="411" y="480" width="1" height="12" fill="#45b880"/>
<rect x="417" y="480" width="1" height="13" fill="#45b880"/>
<rect x="423" y="471" width="1" height="10" fill="#e8405a"/>
<rect x="429" y="445" width="1" height="36" fill="#e8405a"/>
<rect x="435" y="424" width="1" height="57" fill="#e8405a"/>
<rect x="441" y="412" width="1" height="69" fill="#e8405a"/>
<rect x="447" y="422" width="1" height="59" fill="#e8405a"/>
<rect x="453" y="425" width="1" height="56" fill="#e8405a"/>
<rect x="459" y="434" width="1" height="47" fill="#e8405a"/>
<rect x="465" y="449" width="1" height="32" fill="#e8405a"/>
<rect x="471" y="467" width="1" height="14" fill="#e8405a"/>
<rect x="477" y="478" width="1" height="3" fill="#e8405a"/>
<rect x="483" y="480" width="1" height="6" fill="#45b880"/>
<rect x="489" y="480" width="1" height="2" fill="#45b880"/>
<rect x="495" y="478" width="1" height="3" fill="#e8405a"/>
<rect x="501" y="473" width="1" height="8" fill="#e8405a"/>
<rect x="507" y="469" width="1" height="12" fill="#e8405a"/>
<rect x="513" y="468" width="1" height="13" fill="#e8405a"/>
<rect x="519" y="476" width="1" height="5" fill="#e8405a"/>
<rect x="525" y="477" width="1" height="4" fill="#e8405a"/>
<rect x="531" y="467" width="1" height="14" fill="#e8405a"/>
<rect x="537" y="463" width="1" height="18" fill="#e8405a"/>
<rect x="543" y="462" width="1" height="19" fill="#e8405a"/>
<rect x="549" y="468" width="1" height="13" fill="#e8405a"/>
<rect x="555" y="470" width="1" height="11" fill="#e8405a"/>
<rect x="561" y="480" width="1" height="2" fill="#45b880"/>
<rect x="567" y="480" width="1" height="8" fill="#45b880"/>
<rect x="573" y="480" width="1" height="8" fill="#45b880"/>
<rect x="536" y="0" width="1" height="13" fill="#1a74d0"/>
<rect x="549" y="0" width="1" height="13" fill="#1a74d0"/>
<rect x="536" y="12" width="14" height="1" fill="#1a74d0"/>
<rect x="542" y="1" width="2" height="3" fill="#1a74d0"/>
<rect x="542" y="5" width="2" height="2" fill="#1a74d0"/>
<rect x="542" y="8" width="2" height="3" fill="#1a74d0"/>
<rect x="538" y="5" width="3" height="2" fill="#1a74d0"/>
<rect x="545" y="5" width="3" height="2" fill="#1a74d0"/>
<rect x="552" y="0" width="1" height="13" fill="#1a74d0"/>
<rect x="565" y="0" width="1" height="13" fill="#1a74d0"/>
<rect x="552" y="12" width="14" height="1" fill="#1a74d0"/>
<rect x="555" y="1" width="1" height="10" fill="#1a74d0"/>
<rect x="554" y="2" width="3" height="1" fill="#1a74d0"/>
<rect x="554" y="9" width="10" height="1" fill="#1a74d0"/>
<rect x="562" y="8" width="1" height="3" fill="#1a74d0"/>
<rect x="558" y="2" width="1" height="6" fill="#1a74d0"/>
<path d="M559 4.5 L562 1.5 L562 7.5 Z" fill="#1a74d0"/>
<rect x="568" y="0" width="14" height="13" fill="#1a74d0"/>
<rect x="571" y="1" width="1" height="10" fill="#ffffff"/>
<rect x="570" y="2" width="3" height="1" fill="#ffffff"/>
<rect x="570" y="9" width="10" height="1" fill="#ffffff"/>
<rect x="578" y="8" width="1" height="3" fill="#ffffff"/>
<path d="M574 2 L579.2 5.5 L574 9 Z" fill="#e4eef9"/>
<rect x="584" y="0" width="1" height="13" fill="#1a74d0"/>
<rect x="597" y="0" width="1" height="13" fill="#1a74d0"/>
<rect x="584" y="12" width="14" height="1" fill="#1a74d0"/>
<rect x="586.5" y="1.5" width="3" height="9" fill="none" stroke="#1a74d0" stroke-width="1"/>
<rect x="588" y="5" width="5" height="2" fill="#1a74d0"/>
<path d="M592 3 L596 6 L592 9 Z" fill="#1a74d0"/>
<circle cx="191.7" cy="9.4" r="3.9" fill="none" stroke="#ff7800" stroke-width="1"/>
<path d="M187.8 9.4 H195.6 M191.7 5.5 V13.3" stroke="#ff7800" stroke-width="1"/>
<path d="M63.5 631.8 L67.8 624.5 L72 631.8 Z" fill="#ff7000"/>
<rect x="26" y="512" width="4" height="1" fill="#111"/>
<rect x="26" y="519" width="4" height="1" fill="#111"/>
<rect x="24" y="514" width="1" height="4" fill="#111"/>
<rect x="31" y="514" width="1" height="4" fill="#111"/>
<rect x="25" y="513" width="1" height="1" fill="#111"/>
<rect x="30" y="513" width="1" height="1" fill="#111"/>
<rect x="25" y="518" width="1" height="1" fill="#111"/>
<rect x="30" y="518" width="1" height="1" fill="#111"/>
<rect x="27" y="514" width="2" height="1" fill="#ff0000"/>
<rect x="26" y="515" width="4" height="2" fill="#ff0000"/>
<rect x="27" y="517" width="2" height="1" fill="#ff0000"/>
<rect x="27" y="509" width="1" height="2" fill="#ff0000"/>
<rect x="27" y="521" width="1" height="2" fill="#ff0000"/>
<rect x="21" y="515" width="2" height="1" fill="#ff0000"/>
<rect x="33" y="515" width="2" height="1" fill="#ff0000"/>
<rect x="22" y="510" width="1" height="1" fill="#ff0000"/>
<rect x="23" y="511" width="1" height="1" fill="#ff0000"/>
<rect x="32" y="511" width="1" height="1" fill="#ff0000"/>
<rect x="33" y="510" width="1" height="1" fill="#ff0000"/>
<rect x="22" y="521" width="1" height="1" fill="#ff0000"/>
<rect x="23" y="520" width="1" height="1" fill="#ff0000"/>
<rect x="32" y="520" width="1" height="1" fill="#ff0000"/>
<rect x="33" y="521" width="1" height="1" fill="#ff0000"/>
</svg>
<div class="t" style="left:90px;top:1px;font-size:13px;color:#000">美元日元</div>
<div class="t" style="left:138px;top:1px;font-size:13px;color:#ff7700">【日线】</div>
<div class="t" style="left:33px;top:622px;font-size:13px;font-weight:bold;color:#ff7000">日线</div>
<div class="t" style="right:583px;top:13px;color:#333;font-size:12px;font-weight:normal;letter-spacing:0.25px;">155.559</div>
<div class="t" style="left:602px;top:13px;color:#333;font-size:12px;font-weight:normal;letter-spacing:0.25px;">155.559</div>
<div class="t" style="right:583px;top:73px;color:#333;font-size:12px;font-weight:normal;letter-spacing:0.25px;">153.761</div>
<div class="t" style="left:602px;top:73px;color:#333;font-size:12px;font-weight:normal;letter-spacing:0.25px;">153.761</div>
<div class="t" style="right:583px;top:133px;color:#333;font-size:12px;font-weight:normal;letter-spacing:0.25px;">151.964</div>
<div class="t" style="left:602px;top:133px;color:#333;font-size:12px;font-weight:normal;letter-spacing:0.25px;">151.964</div>
<div class="t" style="right:583px;top:194px;color:#333;font-size:12px;font-weight:normal;letter-spacing:0.25px;">150.167</div>
<div class="t" style="left:602px;top:194px;color:#333;font-size:12px;font-weight:normal;letter-spacing:0.25px;">150.167</div>
<div class="t" style="right:583px;top:254px;color:#333;font-size:12px;font-weight:normal;letter-spacing:0.25px;">148.369</div>
<div class="t" style="left:602px;top:254px;color:#333;font-size:12px;font-weight:normal;letter-spacing:0.25px;">148.369</div>
<div class="t" style="right:583px;top:314px;color:#333;font-size:12px;font-weight:normal;letter-spacing:0.25px;">146.572</div>
<div class="t" style="left:602px;top:314px;color:#333;font-size:12px;font-weight:normal;letter-spacing:0.25px;">146.572</div>
<div class="t" style="right:583px;top:396px;color:#333;font-size:12px;font-weight:normal;letter-spacing:0.25px;">1.210</div>
<div class="t" style="left:602px;top:396px;color:#333;font-size:12px;font-weight:normal;letter-spacing:0.25px;">1.210</div>
<div class="t" style="right:583px;top:422px;color:#333;font-size:12px;font-weight:normal;letter-spacing:0.25px;">0.799</div>
<div class="t" style="left:602px;top:422px;color:#333;font-size:12px;font-weight:normal;letter-spacing:0.25px;">0.799</div>
<div class="t" style="right:583px;top:449px;color:#333;font-size:12px;font-weight:normal;letter-spacing:0.25px;">0.387</div>
<div class="t" style="left:602px;top:449px;color:#333;font-size:12px;font-weight:normal;letter-spacing:0.25px;">0.387</div>
<div class="t" style="right:583px;top:475px;color:#333;font-size:12px;font-weight:normal;letter-spacing:0.25px;">-0.024</div>
<div class="t" style="left:602px;top:475px;color:#333;font-size:12px;font-weight:normal;letter-spacing:0.25px;">-0.024</div>
<div class="t" style="right:583px;top:524px;color:#333;font-size:12px;font-weight:normal;letter-spacing:0.25px;">71.978</div>
<div class="t" style="left:602px;top:524px;color:#333;font-size:12px;font-weight:normal;letter-spacing:0.25px;">71.978</div>
<div class="t" style="right:583px;top:553px;color:#333;font-size:12px;font-weight:normal;letter-spacing:0.25px;">62.182</div>
<div class="t" style="left:602px;top:553px;color:#333;font-size:12px;font-weight:normal;letter-spacing:0.25px;">62.182</div>
<div class="t" style="right:583px;top:582px;color:#333;font-size:12px;font-weight:normal;letter-spacing:0.25px;">52.387</div>
<div class="t" style="left:602px;top:582px;color:#333;font-size:12px;font-weight:normal;letter-spacing:0.25px;">52.387</div>
<div class="t" style="left:91px;top:385px;color:#222;font-size:12px;font-weight:normal;letter-spacing:0px;">MACD(26,12,9)</div>
<div class="t" style="left:181px;top:385px;color:#3a86f5;font-size:12px;font-weight:normal;letter-spacing:-0.1px;">DIFF:1.032</div>
<div class="t" style="left:248px;top:385px;color:#4cc47c;font-size:12px;font-weight:normal;letter-spacing:0px;">DEA:1.084</div>
<div class="t" style="left:314px;top:385px;color:#50a8e2;font-size:12px;font-weight:normal;letter-spacing:0px;">MACD:-0.103</div>
<div class="t" style="left:91px;top:513px;color:#222;font-size:12px;font-weight:normal;letter-spacing:0px;">RSI(14,14,14)</div>
<div class="t" style="left:170px;top:513px;color:#5a9ff0;font-size:12px;font-weight:normal;letter-spacing:0px;">RSI1:61.656</div>
<div class="t" style="left:245px;top:513px;color:#4cc47c;font-size:12px;font-weight:normal;letter-spacing:0px;">RSI2:61.656</div>
<div class="t" style="left:320px;top:513px;color:#5ab0e8;font-size:12px;font-weight:normal;letter-spacing:0px;">RSI3:61.656</div>
<div class="t" style="left:152px;top:162px;color:#ea4560;font-size:12px;font-weight:bold;letter-spacing:0.25px;">150.914</div>
<div class="t" style="left:116px;top:347px;color:#4cb48a;font-size:12px;font-weight:bold;letter-spacing:0.25px;">145.851</div>
<div class="t" style="left:351px;top:360px;color:#4cb48a;font-size:12px;font-weight:bold;letter-spacing:0.25px;">145.480</div>
<div class="t" style="left:509px;top:43px;color:#ea4560;font-size:12px;font-weight:bold;letter-spacing:0.25px;">154.479</div>
<div class="t" style="left:149px;top:620px;color:#222;font-size:12px;font-weight:bold;letter-spacing:0.25px;">2025/08</div>
<div class="t" style="left:275px;top:620px;color:#222;font-size:12px;font-weight:bold;letter-spacing:0.25px;">2025/09</div>
<div class="t" style="left:407px;top:620px;color:#222;font-size:12px;font-weight:bold;letter-spacing:0.25px;">2025/10</div>
<div class="t" style="left:545px;top:620px;color:#222;font-size:12px;font-weight:bold;letter-spacing:0.25px;">2025/11</div>
<div id="wm">F<span style="letter-spacing:0.4px">X</span><span style="letter-spacing:3.3px">6</span><span style="letter-spacing:4.6px">7</span>8</div>
<div id="pbox"></div>
<div class="t" style="left:602px;top:76px;font-size:12px;color:#ff8000;letter-spacing:0.25px">153.963</div>
<svg width="670" height="635" style="position:absolute;left:0;top:0"><path d="M659.5 68.8 L663 65.3 L666.8 68.8 Z" fill="#ff8000"/><path d="M659.3 73.3 L663 69.6 L667 73.3 Z" fill="#ff8000"/></svg>
</body></html>
